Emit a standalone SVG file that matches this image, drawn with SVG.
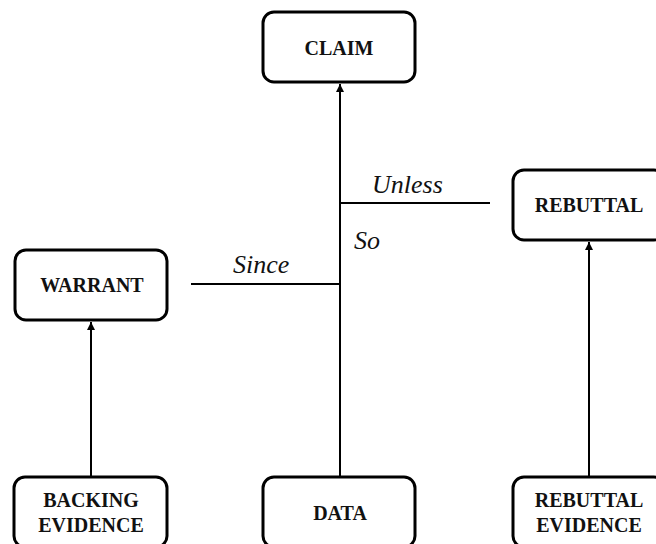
<svg xmlns="http://www.w3.org/2000/svg" width="656" height="544" viewBox="0 0 656 544">
  <style>
    .box { fill: #ffffff; stroke: #000000; stroke-width: 3; }
    .lbl { font-family: "Liberation Serif", "Times New Roman", serif; font-weight: bold; font-size: 20px; fill: #111111; text-anchor: middle; }
    .it { font-family: "Liberation Serif", "DejaVu Serif", serif; font-style: italic; font-weight: normal; font-size: 26px; fill: #111111; }
    .ln { stroke: #000000; stroke-width: 2; fill: none; }
  </style>
  <defs>
    <marker id="arrow" viewBox="0 0 10 10" refX="10" refY="5" markerWidth="4" markerHeight="4" orient="auto" markerUnits="strokeWidth">
      <path d="M0,0 L10,5 L0,10 z" fill="#000000"/>
    </marker>
  </defs>
  <rect width="656" height="544" fill="#ffffff"/>

  <g id="connectors">
    <line class="ln" x1="340" y1="477" x2="340" y2="84" marker-end="url(#arrow)"/>
    <line class="ln" x1="91" y1="477" x2="91" y2="322" marker-end="url(#arrow)"/>
    <line class="ln" x1="589" y1="477" x2="589" y2="242" marker-end="url(#arrow)"/>
    <line class="ln" x1="191" y1="284" x2="340" y2="284"/>
    <line class="ln" x1="340" y1="203" x2="490" y2="203"/>
    <text class="it" x="233" y="273">Since</text>
    <text class="it" x="372" y="193">Unless</text>
    <text class="it" x="354" y="249">So</text>
  </g>

  <g id="claim">
    <rect class="box" x="263" y="12" width="152" height="70" rx="11"/>
    <text class="lbl" x="339" y="55">CLAIM</text>
  </g>
  <g id="rebuttal">
    <rect class="box" x="513" y="170" width="152" height="70" rx="11"/>
    <text class="lbl" x="589" y="212">REBUTTAL</text>
  </g>
  <g id="warrant">
    <rect class="box" x="15" y="250" width="152" height="70" rx="11"/>
    <text class="lbl" x="92" y="292">WARRANT</text>
  </g>
  <g id="backing-evidence">
    <rect class="box" x="14" y="477" width="153" height="70" rx="11"/>
    <text class="lbl" x="91" y="507">BACKING</text>
    <text class="lbl" x="91" y="532">EVIDENCE</text>
  </g>
  <g id="data">
    <rect class="box" x="263" y="477" width="152" height="70" rx="11"/>
    <text class="lbl" x="340" y="520">DATA</text>
  </g>
  <g id="rebuttal-evidence">
    <rect class="box" x="513" y="477" width="152" height="70" rx="11"/>
    <text class="lbl" x="589" y="507">REBUTTAL</text>
    <text class="lbl" x="589" y="532">EVIDENCE</text>
  </g>
</svg>
